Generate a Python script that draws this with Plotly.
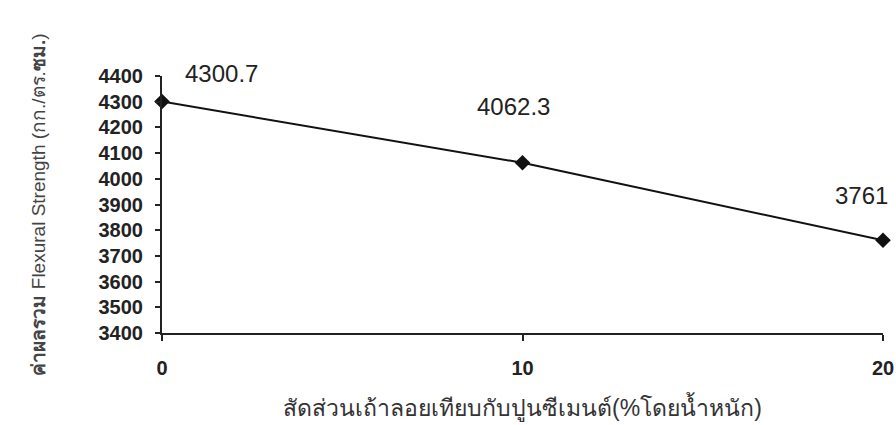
import plotly.graph_objects as go

# Fly-ash replacement (% by weight of cement) and flexural strength (kg/cm²)
fly_ash_pct = [0, 10, 20]
flexural_strength = [4300.7, 4062.3, 3761]
value_labels = ["4300.7", "4062.3", "3761"]

y_ticks = [3400, 3500, 3600, 3700, 3800, 3900, 4000, 4100, 4200, 4300, 4400]
x_ticks = [0, 10, 20]

# label offsets (pixels) relative to each point
label_dx = [59, -9, -22]
label_dy = [28, 56, 45]

fig = go.Figure()
fig.add_trace(go.Scatter(
    x=fly_ash_pct,
    y=flexural_strength,
    mode="lines+markers",
    line=dict(color="#111111", width=2),
    marker=dict(symbol="diamond", size=12, color="#111111"),
    cliponaxis=False,
    showlegend=False,
    hoverinfo="skip",
))

for x, y, t, dx, dy in zip(fly_ash_pct, flexural_strength, value_labels, label_dx, label_dy):
    fig.add_annotation(
        x=x, y=y, text=t, showarrow=False,
        xshift=dx, yshift=dy,
        font=dict(family="Liberation Sans, Arial, sans-serif", size=24, color="#222222"),
    )

fig.update_layout(
    width=896, height=425,
    margin=dict(l=162, r=13, t=76, b=92),
    paper_bgcolor="white",
    plot_bgcolor="white",
    font=dict(family="Liberation Sans, Arial, sans-serif", color="#222222"),
    xaxis=dict(
        range=[0, 20],
        automargin=False,
        tickvals=x_ticks,
        ticktext=[str(v) for v in x_ticks],
        showgrid=False, zeroline=False,
        showline=True, linecolor="#222222", linewidth=2,
        ticks="outside", ticklen=6, tickwidth=2, tickcolor="#222222",
        ticklabelstandoff=10,
        tickfont=dict(size=20, color="#222222", family="Liberation Sans, Arial, sans-serif", weight="bold"),
        title=dict(
            text="สัดส่วนเถ้าลอยเทียบกับปูนซีเมนต์(%โดยน้ำหนัก)",
            font=dict(size=23, color="#333333"),
            standoff=22,
        ),
    ),
    yaxis=dict(
        range=[3400, 4400],
        automargin=False,
        tickvals=y_ticks,
        showgrid=False, zeroline=False,
        showline=True, linecolor="#222222", linewidth=2,
        ticks="outside", ticklen=5, tickwidth=2, tickcolor="#222222",
        ticklabelstandoff=8,
        tickfont=dict(size=20, color="#222222", family="Liberation Sans, Arial, sans-serif", weight="bold"),
        title=dict(
            text="<b>ค่าผลรวม</b> Flexural Strength (กก./ตร.<b>ซม.</b>)",
            font=dict(size=19, color="#444444"),
            standoff=48,
        ),
    ),
)

fig.write_html("out.html")
